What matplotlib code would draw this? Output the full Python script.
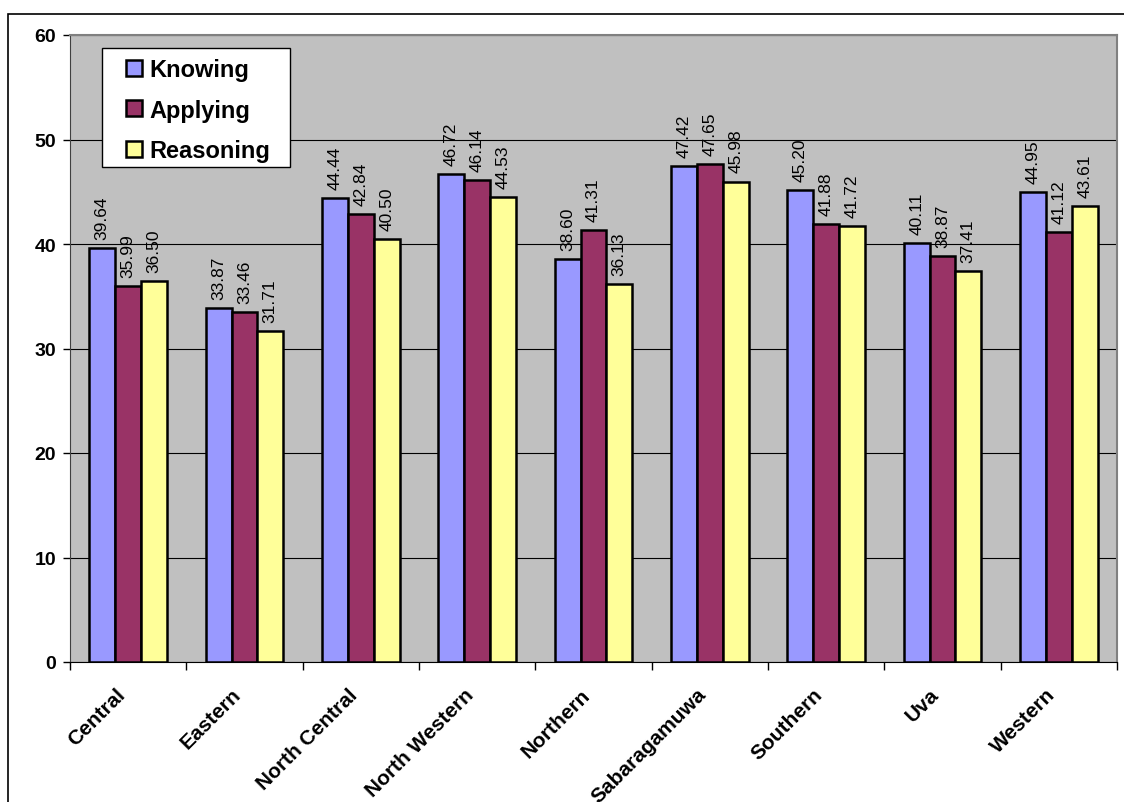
import matplotlib
matplotlib.use("Agg")
import matplotlib.pyplot as plt
import matplotlib.transforms as mtransforms
import numpy as np
from matplotlib.patches import Rectangle

categories = ["Central", "Eastern", "North Central", "North Western", "Northern",
              "Sabaragamuwa", "Southern", "Uva", "Western"]
knowing = [39.64, 33.87, 44.44, 46.72, 38.60, 47.42, 45.20, 40.11, 44.95]
applying = [35.99, 33.46, 42.84, 46.14, 41.31, 47.65, 41.88, 38.87, 41.12]
reasoning = [36.50, 31.71, 40.50, 44.53, 36.13, 45.98, 41.72, 37.41, 43.61]
series_names = ["Knowing", "Applying", "Reasoning"]
colors = ["#9999FF", "#993366", "#FFFF99"]

plt.rcParams['font.family'] = ['Liberation Sans', 'DejaVu Sans']

fig = plt.figure(figsize=(11.24, 8.03), dpi=100)
W, H = 1124, 803
ax = fig.add_axes([70 / W, 1 - 663 / H, (1117 - 70) / W, (663 - 36) / H])
AW, AH = 1117 - 70, 663 - 36

# outer chart frame
fig.patches.append(Rectangle((8 / W, -0.05), 1.2, 1 - 15 / H + 0.05, transform=fig.transFigure,
                             fill=False, edgecolor='black', linewidth=1.2, zorder=0))

ax.set_facecolor('#C0C0C0')
x = np.arange(len(categories))
bw = 1 / 4.5
all_series = [knowing, applying, reasoning]
for i, (vals, name, col) in enumerate(zip(all_series, series_names, colors)):
    pos = x + (i - 1) * bw
    ax.bar(pos, vals, width=bw, color=col, edgecolor='black', linewidth=1.8,
           label=name, zorder=3)
    for p, v in zip(pos, vals):
        ax.annotate(f"{v:.2f}", (p, v), xytext=(0, 6.5), textcoords='offset points',
                    rotation=90, ha='center', va='bottom', fontsize=12.5, zorder=4)

ax.set_ylim(0, 60)
ax.set_xlim(-0.5, len(categories) - 0.5)
ax.set_yticks(np.arange(0, 61, 10))
ax.yaxis.grid(True, color='black', linewidth=0.8, zorder=1)
ax.set_axisbelow(True)
for lab in ax.get_yticklabels():
    lab.set_fontweight('bold')
ax.tick_params(axis='y', labelsize=14, length=5, width=1, direction='out', pad=5)

ax.set_xticks(np.arange(-0.5, len(categories) + 0.5, 1), minor=False)
ax.set_xticklabels([])
ax.set_xticks(x, minor=True)
ax.set_xticklabels(categories, minor=True, rotation=45, ha='right', rotation_mode='anchor',
                   fontsize=15, fontweight='bold')
ax.tick_params(axis='x', which='major', length=6, width=1, direction='out')
ax.tick_params(axis='x', which='minor', length=0, pad=22)
offset = mtransforms.ScaledTranslation(-13 / 100, 8 / 100, fig.dpi_scale_trans)
for lab in ax.get_xticklabels(minor=True):
    lab.set_transform(lab.get_transform() + offset)

for s in ['top', 'right']:
    ax.spines[s].set_color('#808080')
    ax.spines[s].set_linewidth(1.5)
ax.spines['left'].set_color('#404040')
ax.spines['bottom'].set_color('black')

# legend box
ax.add_patch(Rectangle(((102 - 70) / AW, 1 - (168 - 36) / AH), (290 - 102) / AW, (168 - 49) / AH,
                       transform=ax.transAxes, facecolor='white', edgecolor='black',
                       linewidth=1, zorder=5))
leg = ax.legend(loc='upper left', bbox_to_anchor=((126 - 70) / AW, 1 - (59 - 36) / AH),
                borderaxespad=0, borderpad=0, frameon=False,
                prop={'weight': 'bold', 'size': 17},
                handlelength=0.66, handleheight=0.66, handletextpad=0.35, labelspacing=0.75)
leg.set_zorder(6)

fig.savefig("out.png", dpi=100)
